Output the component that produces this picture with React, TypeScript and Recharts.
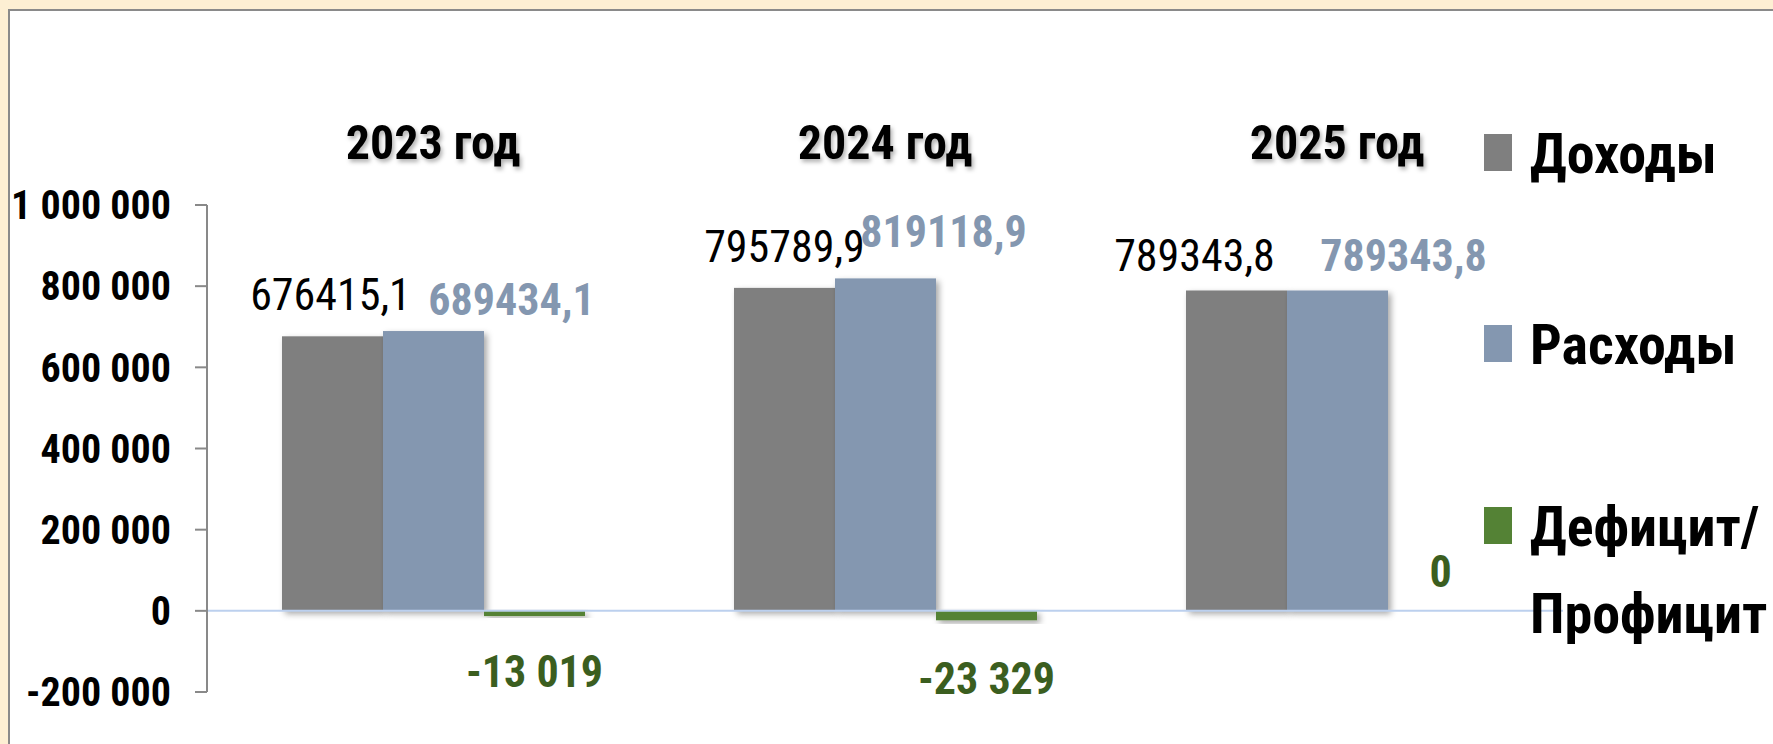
import React from 'react';
import { BarChart, Bar, XAxis, YAxis, ReferenceLine, LabelList, Legend } from 'recharts';

// ---------- data ----------
const categories = ['2023 год', '2024 год', '2025 год'];
const seriesNames = ['Доходы', 'Расходы', 'Дефицит/ Профицит'];
const incomes = [676415.1, 795789.9, 789343.8];
const expenses = [689434.1, 819118.9, 789343.8];
const balances = [-13019, -23329, 0];
const yTicks = [-200000, 0, 200000, 400000, 600000, 800000, 1000000];

const data = categories.map((year, i) => ({
  year,
  income: incomes[i],
  expense: expenses[i],
  balance: balances[i],
}));

// ---------- styling ----------
const FONT = "'Liberation Sans Narrow', 'Arial Narrow', 'Roboto Condensed', 'Open Sans', sans-serif";
const C_INCOME = '#7f7f7f';
const C_EXPENSE = '#8497b0';
const C_BALANCE = '#548235';
const C_BALANCE_TEXT = '#3b5e1f';

// manual label nudges (dx from bar centre, dy from bar value end to text baseline)
const incomeNudge = [
  { dx: -2, dy: -26 },
  { dx: 0, dy: -26 },
  { dx: -42, dy: -19 },
];
const expenseNudge = [
  { dx: 78, dy: -16 },
  { dx: 58, dy: -31 },
  { dx: 66, dy: -19 },
];
const balanceNudge = [
  { dx: 0, dy: 71 },
  { dx: 0, dy: 74 },
  { dx: 2, dy: -24 },
];

const fmtDecimal = (v: number) => v.toFixed(1).replace('.', ',');
const fmtThousands = (v: number) => {
  const s = Math.abs(Math.round(v)).toString().replace(/\B(?=(\d{3})+(?!\d))/g, ' ');
  return (v < 0 ? '-' : '') + s;
};

const ShadowBar = (props: any) => {
  const { x, y, width, height, fill } = props;
  const h = Math.abs(height || 0);
  if (!h) return null;
  const top = Math.min(y, y + height);
  return <rect x={x} y={top} width={width} height={h} fill={fill} filter="url(#barShadow)" />;
};

const makeLabel =
  (nudges: { dx: number; dy: number }[], color: string, weight: number, size: number, fmt: (v: number) => string) =>
  (props: any) => {
    const vb = props.viewBox || {};
    const x = Number(props.x ?? vb.x);
    const y = Number(props.y ?? vb.y);
    const width = Number(props.width ?? vb.width);
    const height = Number(props.height ?? vb.height);
    const index = props.index ?? 0;
    const value = Number(props.value);
    const n = nudges[index] || { dx: 0, dy: 0 };
    const top = Math.min(y, y + height);
    const bottom = Math.max(y, y + height);
    const end = value >= 0 ? top : bottom;
    return (
      <text
        key={`lbl-${index}`}
        x={x + width / 2 + n.dx}
        y={end + n.dy}
        textAnchor="middle"
        fill={color}
        fontFamily={FONT}
        fontSize={size}
        fontWeight={weight}
      >
        {fmt(value)}
      </text>
    );
  };

const YearTick = (props: any) => {
  const { x, y, payload } = props;
  return (
    <text
      x={x}
      y={y}
      textAnchor="middle"
      fill="#000"
      fontFamily={FONT}
      fontSize={48}
      fontWeight={700}
      filter="url(#textShadow)"
    >
      {payload.value}
    </text>
  );
};

const legendBaselines = [173, 364, 546];
const LEGEND_FS = 56;
const LEGEND_LINE = 87;

const renderLegend = (props: any) => {
  const payload = (props.payload || []).slice().sort(
    (a: any, b: any) => seriesNames.indexOf(a.value) - seriesNames.indexOf(b.value)
  );
  return (
    <div style={{ position: 'relative', width: 1773, height: 744, pointerEvents: 'none' }}>
      {payload.map((p: any, i: number) => {
        const base = legendBaselines[i];
        const lines = String(p.value).split(' ');
        return (
          <React.Fragment key={i}>
            <div
              style={{
                position: 'absolute',
                left: 1484,
                top: base - 39,
                width: 28,
                height: 37,
                background: p.color,
              }}
            />
            {lines.map((ln: string, j: number) => (
              <div
                key={j}
                style={{
                  position: 'absolute',
                  left: 1530,
                  top: base + j * LEGEND_LINE - 47.4,
                  fontFamily: FONT,
                  fontWeight: 700,
                  fontSize: LEGEND_FS,
                  lineHeight: `${LEGEND_FS}px`,
                  color: '#000',
                  whiteSpace: 'nowrap',
                }}
              >
                {ln}
              </div>
            ))}
          </React.Fragment>
        );
      })}
    </div>
  );
};

export default function App() {
  return (
    <div style={{ position: 'fixed', left: 0, top: 0, width: 1773, height: 744, background: '#fdefd3', overflow: 'hidden' }}>
      <svg width={0} height={0} style={{ position: 'absolute' }}>
        <defs>
          <filter id="barShadow" x="-20%" y="-20%" width="150%" height="150%">
            <feDropShadow dx="3" dy="3" stdDeviation="3" floodColor="#000" floodOpacity="0.35" />
          </filter>
          <filter id="textShadow" x="-10%" y="-20%" width="120%" height="160%">
            <feDropShadow dx="2" dy="3" stdDeviation="2" floodColor="#000" floodOpacity="0.3" />
          </filter>
        </defs>
      </svg>
      <div
        style={{
          position: 'absolute',
          left: 8,
          top: 9,
          width: 1773,
          height: 744,
          background: '#fff',
          borderTop: '2px solid #8a8a8a',
          borderLeft: '2px solid #8a8a8a',
        }}
      />
      <div style={{ position: 'absolute', left: 0, top: 0 }}>
        <BarChart
          width={1773}
          height={744}
          data={data}
          margin={{ top: 145, right: 210, bottom: 52, left: 0 }}
          barGap={0}
          barCategoryGap={75}
        >
          <XAxis
            dataKey="year"
            orientation="top"
            height={60}
            axisLine={false}
            tickLine={false}
            tickSize={0}
            tickMargin={46}
            tick={<YearTick />}
            interval={0}
          />
          <YAxis
            width={207}
            domain={[-200000, 1000000]}
            ticks={yTicks}
            interval={0}
            tickFormatter={fmtThousands}
            axisLine={{ stroke: '#898989', strokeWidth: 2 }}
            tickLine={{ stroke: '#898989', strokeWidth: 2 }}
            tickSize={12}
            tickMargin={24}
            tick={{ fill: '#000', fontFamily: FONT, fontSize: 40, fontWeight: 700 }}
          />
          <Legend
            layout="horizontal"
            verticalAlign="middle"
            align="center"
            wrapperStyle={{ left: 0, top: 0, width: 1773, height: 744 }}
            content={renderLegend}
          />
          <Bar dataKey="income" name={seriesNames[0]} fill={C_INCOME} shape={<ShadowBar />} isAnimationActive={false}>
            <LabelList dataKey="income" content={makeLabel(incomeNudge, '#000', 400, 44, fmtDecimal)} />
          </Bar>
          <Bar dataKey="expense" name={seriesNames[1]} fill={C_EXPENSE} shape={<ShadowBar />} isAnimationActive={false}>
            <LabelList dataKey="expense" content={makeLabel(expenseNudge, C_EXPENSE, 700, 44, fmtDecimal)} />
          </Bar>
          <Bar dataKey="balance" name={seriesNames[2]} fill={C_BALANCE} shape={<ShadowBar />} isAnimationActive={false}>
            <LabelList dataKey="balance" content={makeLabel(balanceNudge, C_BALANCE_TEXT, 700, 44, fmtThousands)} />
          </Bar>
          <ReferenceLine y={0} stroke="#bcd0ee" strokeWidth={2} />
        </BarChart>
      </div>
    </div>
  );
}
